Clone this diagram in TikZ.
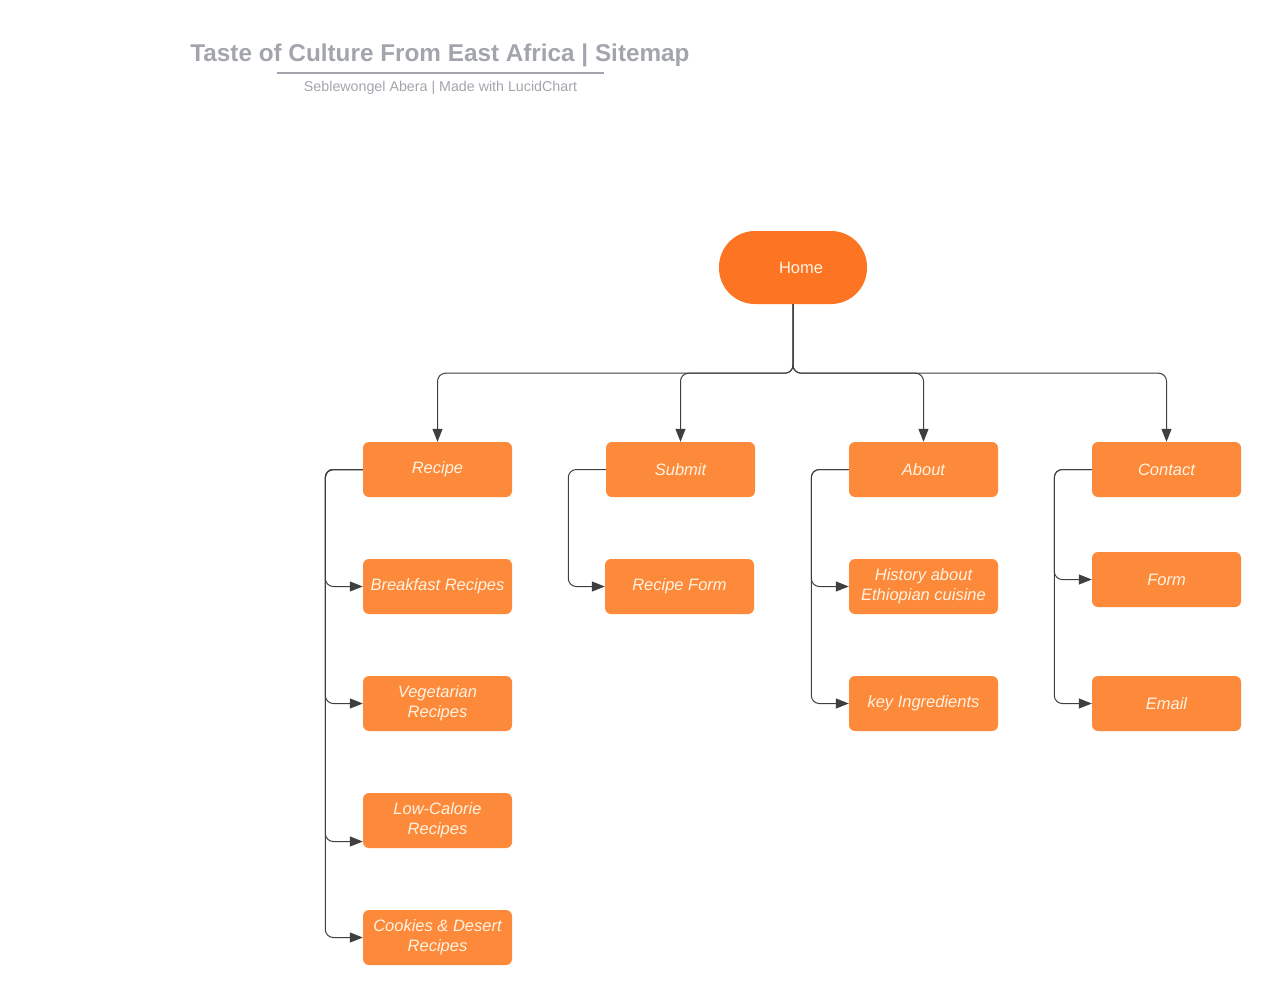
\documentclass[tikz,border=0pt]{standalone}
\usepackage{fontspec}
\setmainfont{Liberation Sans}
\usetikzlibrary{arrows.meta}

\definecolor{homeorange}{HTML}{FD7522}
\definecolor{pageorange}{HTML}{FD8A3A}
\definecolor{pagetext}{HTML}{FFF3E3}
\definecolor{titlegray}{HTML}{A2A5AC}
\definecolor{linkgray}{HTML}{3F3F3F}

\begin{document}
\begin{tikzpicture}[
			x = 1pt, y = -1pt,
			every node/.style = {font = \fontsize{16.5}{20}\selectfont},
			page/.style = {fill = pageorange, text = pagetext, rounded corners = 6pt,
				minimum width = 149pt, minimum height = 55pt, inner sep = 2pt,
				align = center, font = \fontsize{16.5}{20}\selectfont\itshape},
			home/.style = {fill = homeorange, text = pagetext, rounded corners = 36pt,
				minimum width = 148pt, minimum height = 73pt, inner sep = 0pt},
			title/.style = {text = titlegray, inner sep = 0pt},
			link/.style = {draw = linkgray, line width = 1pt, rounded corners = 8pt,
				-{Triangle[length = 13pt, width = 10pt]}}
			]

			\useasboundingbox (0,0) rectangle (1280,1004);

			% heading
			\node[title, font = \fontsize{24.3}{28}\selectfont\bfseries] (heading) at (440,55) {Taste of Culture From East Africa | Sitemap};
			\draw[titlegray, line width = 2pt] (277,73) -- (604,73);
			\node[title, font = \fontsize{14.25}{17}\selectfont] (byline) at (440.5,88) {Seblewongel Abera | Made with LucidChart};

			\def\colA{437.5}
			\def\colB{680.5}
			\def\colC{923.5}
			\def\colD{1166.5}

			\node[home] (home) at (793,267.5) {\hspace{16pt}Home};

			\node[page] (recipe) at (\colA,469.5) {Recipe};
			\node[page] (submit) at (\colB,469.5) {Submit};
			\node[page] (about) at (\colC,469.5) {About};
			\node[page] (contact) at (\colD,469.5) {Contact};

			\node[page] (breakfast) at (\colA,586.5) {Breakfast Recipes};
			\node[page] (vegetarian) at (\colA,703.5) {Vegetarian\\Recipes};
			\node[page] (lowcal) at (\colA,820.5) {Low-Calorie\\Recipes};
			\node[page] (cookies) at (\colA,937.5) {Cookies \& Desert\\Recipes};

			\node[page] (recipeform) at (679.5,586.5) {Recipe Form};

			\node[page] (history) at (\colC,586.5) {History about\\Ethiopian cuisine};
			\node[page] (ingredients) at (\colC,703.5) {key Ingredients};

			\node[page] (form) at (\colD,579.5) {Form};
			\node[page] (email) at (\colD,703.5) {Email};

			\foreach \c in {recipe,submit,about,contact}{
				\draw[link] (home.south) -- ++(0,69) -| (\c.north);
			}

			\foreach \p/\c in {recipe/breakfast,recipe/vegetarian,recipe/cookies,
				submit/recipeform,about/history,about/ingredients,contact/form,contact/email}{
				\draw[link] (\p.west) -- ++(-37.5,0) |- (\c.west);
			}
			\draw[link] (recipe.west) -- ++(-37.5,0) |- ([yshift = -21pt]lowcal.west);

		\end{tikzpicture}
\end{document}
